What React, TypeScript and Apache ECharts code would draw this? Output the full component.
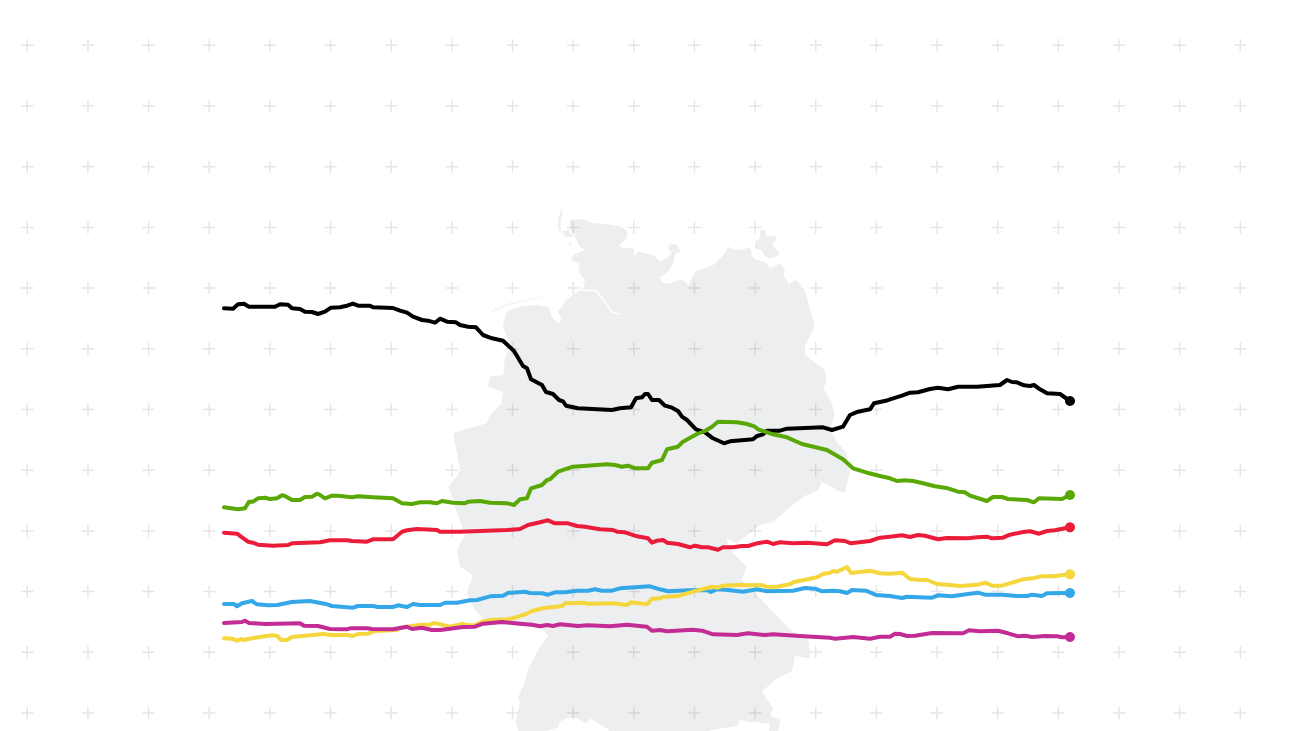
import React, { useEffect, useRef } from "react";
import * as echarts from "echarts";

// Time runs in days from the first poll; the share is on an unlabelled scale.
const black: [number, number][] = [[0,42.27],[9,42.23],[14,42.67],[20,42.73],[25,42.43],[51,42.43],[56,42.67],[64,42.63],[68,42.27],[76,42.2],[81,41.93],[88,41.9],[94,41.7],[101,41.93],[107,42.33],[116,42.37],[123,42.53],[129,42.73],[134,42.53],[146,42.53],[149,42.37],[169,42.3],[176,42.03],[183,41.83],[189,41.43],[198,41.1],[204,41.03],[211,40.83],[216,41.23],[223,40.93],[232,40.87],[236,40.6],[244,40.43],[252,40.37],[259,39.6],[268,39.27],[279,39.03],[290,38.0],[299,36.5],[303,36.27],[307,35.17],[318,34.6],[322,33.9],[329,33.7],[335,33.1],[339,32.97],[342,32.53],[354,32.27],[388,32.1],[396,32.27],[407,32.37],[412,33.27],[418,33.37],[421,33.7],[424,33.7],[428,33.1],[435,33.1],[441,32.53],[448,32.33],[454,32.0],[458,31.43],[463,31.1],[472,30.17],[481,29.87],[489,29.27],[500,28.77],[506,28.97],[529,29.17],[533,29.5],[539,29.67],[543,30.03],[556,30.03],[563,30.23],[599,30.37],[608,30.1],[619,30.43],[626,31.6],[634,31.93],[646,32.17],[650,32.77],[663,33.05],[666,33.17],[678,33.53],[686,33.83],[694,33.87],[706,34.2],[714,34.33],[724,34.17],[734,34.43],[753,34.43],[776,34.6],[783,35.1],[788,34.9],[793,34.87],[800,34.57],[806,34.5],[810,34.6],[816,34.17],[823,33.77],[836,33.7],[846,33.0]];
const green: [number, number][] = [[0,22.37],[14,22.17],[21,22.27],[25,22.93],[29,22.93],[34,23.27],[41,23.33],[46,23.2],[53,23.27],[58,23.57],[61,23.5],[68,23.1],[76,23.1],[81,23.4],[88,23.43],[93,23.73],[95,23.67],[101,23.27],[108,23.53],[114,23.53],[128,23.37],[134,23.47],[149,23.37],[169,23.27],[178,22.77],[188,22.7],[196,22.87],[206,22.87],[213,22.77],[218,23.0],[229,22.83],[241,22.77],[244,22.93],[256,23.0],[266,22.83],[283,22.77],[290,22.6],[296,23.17],[303,23.27],[307,24.27],[318,24.6],[323,25.1],[326,25.17],[334,25.93],[349,26.43],[363,26.53],[383,26.67],[391,26.6],[398,26.43],[404,26.53],[411,26.27],[424,26.27],[428,26.83],[438,27.1],[443,28.17],[454,28.43],[459,28.93],[473,29.7],[481,30.0],[488,30.43],[494,30.93],[513,30.87],[523,30.7],[531,30.43],[534,30.17],[549,29.67],[563,29.37],[578,28.7],[603,28.1],[619,27.17],[629,26.27],[643,25.83],[656,25.5],[666,25.27],[673,25.0],[681,25.07],[689,25.0],[699,24.77],[711,24.47],[724,24.27],[734,23.93],[741,23.87],[746,23.53],[763,23.0],[769,23.4],[778,23.4],[784,23.2],[803,23.1],[810,22.87],[815,23.27],[838,23.2],[846,23.6]];
const red: [number, number][] = [[0,19.83],[13,19.73],[18,19.37],[24,18.93],[29,18.83],[34,18.63],[49,18.53],[64,18.6],[68,18.77],[96,18.87],[106,19.07],[123,19.07],[128,19.0],[143,18.93],[149,19.17],[169,19.17],[178,19.93],[183,20.07],[193,20.2],[213,20.1],[216,19.93],[236,19.93],[256,20.0],[283,20.1],[296,20.2],[304,20.6],[316,20.87],[324,21.07],[331,20.77],[344,20.77],[353,20.5],[361,20.43],[376,20.17],[389,20.1],[393,19.93],[401,19.87],[413,19.47],[424,19.27],[428,18.83],[433,19.03],[439,19.1],[443,18.83],[454,18.7],[466,18.37],[471,18.53],[478,18.37],[484,18.37],[494,18.13],[499,18.37],[509,18.37],[518,18.5],[524,18.5],[533,18.77],[543,18.93],[549,18.7],[556,18.87],[569,18.77],[583,18.83],[603,18.67],[611,19.07],[621,19.0],[627,18.77],[646,19.0],[656,19.33],[666,19.43],[678,19.57],[686,19.4],[694,19.6],[701,19.53],[714,19.17],[723,19.3],[744,19.27],[753,19.37],[763,19.43],[768,19.27],[779,19.33],[786,19.63],[799,19.9],[806,19.97],[815,19.73],[823,20.0],[831,20.07],[846,20.37]];
const yellow: [number, number][] = [[0,9.27],[8,9.23],[13,9.03],[17,9.2],[20,9.1],[28,9.27],[36,9.4],[48,9.57],[53,9.53],[57,9.1],[63,9.1],[68,9.4],[99,9.7],[108,9.6],[123,9.6],[129,9.5],[134,9.7],[144,9.73],[151,10.0],[173,10.1],[176,10.33],[193,10.57],[199,10.63],[206,10.63],[210,10.8],[216,10.67],[226,10.43],[238,10.7],[244,10.57],[251,10.6],[258,10.93],[266,11.1],[284,11.17],[294,11.43],[302,11.7],[308,12.0],[319,12.27],[338,12.5],[341,12.77],[359,12.83],[364,12.73],[389,12.77],[403,12.6],[407,12.87],[423,12.67],[428,13.23],[436,13.27],[439,13.4],[454,13.5],[469,13.93],[488,14.43],[494,14.33],[499,14.53],[518,14.63],[523,14.57],[538,14.6],[543,14.4],[553,14.43],[566,14.67],[569,14.87],[593,15.37],[599,15.7],[606,15.83],[609,16.0],[613,15.93],[623,16.4],[627,15.8],[646,16.03],[656,15.77],[666,15.73],[678,15.83],[681,15.6],[686,15.2],[694,15.13],[703,15.1],[713,14.7],[726,14.6],[736,14.5],[753,14.63],[761,14.83],[768,14.53],[778,14.53],[789,14.87],[799,15.17],[809,15.27],[816,15.47],[829,15.47],[846,15.67]];
const blue: [number, number][] = [[0,12.7],[10,12.7],[13,12.47],[18,12.77],[28,13.0],[33,12.67],[44,12.57],[53,12.6],[68,12.9],[86,13.0],[103,12.67],[108,12.5],[129,12.33],[134,12.5],[149,12.5],[154,12.4],[169,12.4],[174,12.57],[183,12.4],[189,12.7],[196,12.6],[216,12.6],[221,12.83],[233,12.83],[246,13.07],[253,13.1],[266,13.47],[279,13.53],[284,13.8],[301,13.93],[306,13.8],[318,13.77],[324,13.63],[331,13.87],[341,13.87],[353,14.03],[364,14.03],[371,14.17],[378,14.03],[388,14.03],[396,14.27],[426,14.47],[436,14.17],[444,13.97],[466,14.07],[483,14.1],[487,13.9],[493,14.17],[504,14.1],[519,13.93],[533,14.17],[543,13.97],[569,14.03],[581,14.3],[591,14.23],[598,13.97],[609,14.03],[616,13.97],[623,13.8],[628,14.1],[642,14.03],[652,13.6],[666,13.5],[678,13.3],[683,13.43],[708,13.33],[714,13.57],[728,13.47],[744,13.7],[754,13.83],[761,13.63],[778,13.63],[793,13.5],[803,13.5],[808,13.63],[818,13.5],[823,13.77],[846,13.8]];
const magenta: [number, number][] = [[0,10.8],[18,10.9],[21,11.03],[25,10.8],[41,10.7],[76,10.77],[80,10.53],[94,10.5],[106,10.2],[123,10.17],[126,10.27],[143,10.27],[148,10.2],[169,10.17],[183,10.43],[188,10.2],[198,10.33],[208,10.1],[216,10.1],[226,10.23],[239,10.4],[251,10.43],[259,10.73],[278,10.9],[296,10.73],[308,10.63],[316,10.47],[323,10.6],[329,10.5],[336,10.67],[354,10.5],[364,10.57],[386,10.47],[403,10.63],[423,10.43],[428,10.03],[436,10.1],[443,9.97],[469,10.13],[478,10.03],[489,9.67],[513,9.6],[524,9.77],[541,9.6],[549,9.67],[576,9.5],[606,9.33],[611,9.23],[629,9.4],[646,9.23],[656,9.43],[666,9.43],[671,9.73],[676,9.7],[683,9.5],[691,9.53],[708,9.8],[739,9.77],[745,10.07],[756,9.97],[774,10.03],[784,9.77],[794,9.47],[801,9.53],[808,9.4],[821,9.5],[833,9.47],[838,9.37],[846,9.4]];

const plusColumns = Array.from({ length: 22 }, (_, i) => 27.3 + i * 60.65);
const plusRows = Array.from({ length: 12 }, (_, i) => 45.3 + i * 60.7);

const germany =
  "M570,220L581.7,219L593.3,223.3L606.7,224.3L621.7,226.7L627.3,231.7L626.7,238.3L618.3,246.7L625,248.3L633.3,248.3L634,256.7L638.3,251.7L653.3,255L660,261.7L668.3,256.7L671.7,253.3L667.7,248.3L670,244.3L676.7,244.3L680.7,251.7L675,254.3L673.3,263.3L668.3,271.7L659.3,277.7L663.3,283.3L670,283.3L681.7,279.3L688.3,285L695,271.7L713.3,265L725,253.3L728.3,246.7L735,250L745,249L750,247.3L753.3,258.3L766.7,263.3L770,268.3L780,263.3L785,270L783.3,275L789,284L796,280L801.7,286L801.7,287.3L805,290L810,310L815,325L805,346.7L805,355L825,370L826.7,380L823.3,388.3L831.7,403.3L835,415L830,428L836.7,441.7L846.7,453.3L850,471.7L845,493.3L836.7,490L821.7,481.7L818.3,490L803.3,496.7L786.7,510L773.3,521.7L760,525L736.7,543.3L726.7,538.3L728.3,548.3L746.7,566.7L741.7,580L756.7,595L768.3,606.7L790,630L808.3,638.3L810,658.3L795,656L791.7,671.7L776.7,678.3L761.7,691.7L773.3,708.3L770,716L780,720L778.3,731L769,731L770,724L758.3,722.3L751.7,722.3L740,720L736.7,726L711.7,730L708.3,731L610,731L605,727.3L595,721.7L588.3,716L590,720L585,723.3L576.7,718.3L568.3,717.3L560,721.7L558.3,727.3L546.7,731L518.3,731L515.7,721.7L520,703.3L518.3,696.7L525,681.7L528.3,668.3L538.3,650L545,640L548.3,635.7L540,626.7L490,624L481.7,616.7L475,610L466.7,593.3L473.3,575L460,566.7L456.7,550L465,535L460.7,523.3L448.3,486.7L456.7,476.7L460,470L453.3,433.3L463.3,430L486.7,423.3L491.7,413.3L501.7,403.3L503.3,391.7L488.3,386.7L490,376.7L503.3,375L505,356.7L511.7,346.7L503.3,328.3L503.3,324.3L506.7,311.7L518.3,306.7L536.7,305L548.3,306.7L551.7,316.7L558.3,323.3L561.7,320L558,312L566.7,300L580,290L583.3,288.3L585,280L578.3,271.7L579.3,263.3L570,260L573.3,255L585,250L580,246.7L575,236.7L570,228.3Z" +
  "M561.7,209L558.3,218.3L558.3,228.3L560.7,233.3L560.7,221.7L562.7,210Z" +
  "M561.7,231L568.3,230L573.3,236.7L565,236.7Z" +
  "M569.3,241.7L573.3,246.7L568.3,245Z" +
  "M760,230L765,230L766.7,236.7L775,235L776.7,240L771.7,243.3L775,248.3L780,253.3L776.7,256.7L770,258.3L765,256.7L761.7,250L755,248.3L755,241.7L760,238.3Z";
const frisianIslands = "M490,311L505,304.3L523.3,300L541.7,296.7L541.7,297.7L523.3,301.7L506.7,305.7L491.7,312.3Z";

const parties: { data: [number, number][]; color: string }[] = [
  { data: black, color: "#000000" },
  { data: green, color: "#5aa805" },
  { data: blue, color: "#33a7e8" },
  { data: yellow, color: "#f5d63d" },
  { data: magenta, color: "#c42c95" },
  { data: red, color: "#eb1c3a" },
];

const plusSymbol = "path://M5.3,0H6.7V5.3H12V6.7H6.7V12H5.3V6.7H0V5.3H5.3Z";

echarts.graphic.registerShape("germany", echarts.graphic.extendPath(germany, {}));
echarts.graphic.registerShape("frisianIslands", echarts.graphic.extendPath(frisianIslands, {}));

export default function App() {
  const ref = useRef<HTMLDivElement>(null);
  useEffect(() => {
    const chart = echarts.init(ref.current!, null, { renderer: "svg" });
    const plusData: number[][] = [];
    plusColumns.forEach((x) => plusRows.forEach((y) => plusData.push([x, y])));
    chart.setOption({
      animation: false,
      backgroundColor: "#ffffff",
      grid: { left: 0, top: 0, width: 1300, height: 731, containLabel: false },
      xAxis: [
        { type: "value", min: -224, max: 1076, show: false },
        { type: "value", min: 0, max: 1300, show: false },
      ],
      yAxis: [
        { type: "value", min: 0, max: 73.1, show: false },
        { type: "value", min: 0, max: 731, inverse: true, show: false },
      ],
      graphic: [
        { type: "germany", x: 0, y: 0, silent: true, z: 0, style: { fill: "#eceef0" } },
        { type: "frisianIslands", x: 0, y: 0, silent: true, z: 0, style: { fill: "#f3f4f5" } },
        {
          type: "polyline",
          silent: true,
          z: 0,
          shape: { points: [[580, 290], [596.7, 291], [605, 301.7], [611.7, 311.7], [620, 314.3]] },
          style: { stroke: "#ffffff", lineWidth: 1.6, fill: "none" },
        },
      ],
      series: [
        {
          type: "scatter",
          xAxisIndex: 1,
          yAxisIndex: 1,
          symbol: plusSymbol,
          symbolSize: 12.5,
          silent: true,
          z: 1,
          itemStyle: { color: "#000000", opacity: 0.1 },
          data: plusData,
        },
        ...parties.map((p, i) => ({
          type: "line",
          data: p.data,
          showSymbol: false,
          smooth: false,
          silent: true,
          z: 2 + i,
          lineStyle: { color: p.color, width: 4, join: "round", cap: "round" },
        })),
        ...parties.map((p, i) => ({
          type: "scatter",
          data: [p.data[p.data.length - 1]],
          symbol: "circle",
          symbolSize: 10,
          silent: true,
          z: 2 + i,
          itemStyle: { color: p.color, opacity: 1 },
        })),
      ],
    });
    return () => chart.dispose();
  }, []);
  return <div ref={ref} style={{ position: "absolute", left: 0, top: 0, width: 1300, height: 731 }} />;
}
